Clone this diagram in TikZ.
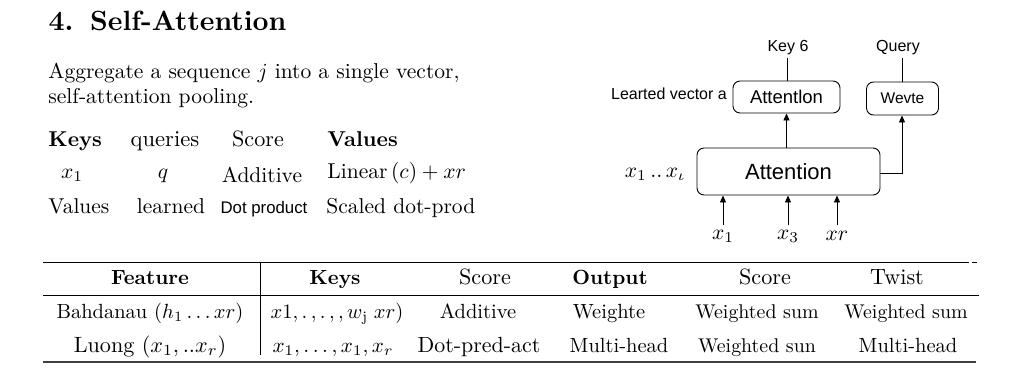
\documentclass[tikz,border=0pt]{standalone}
\usepackage{fontspec}
\newfontfamily\dsans{Liberation Sans}
\usetikzlibrary{arrows.meta}
\begin{document}
\begin{tikzpicture}[x=1pt,y=-1pt,
  serif/.style={inner sep=0pt,font=\fontsize{10}{12}\selectfont,scale=2.15},
  hdr/.style={serif,font=\fontsize{10}{12}\selectfont\bfseries},
  tser/.style={inner sep=0pt,anchor=base,font=\fontsize{10}{12}\selectfont,scale=2.05},
  thdr/.style={tser,font=\fontsize{10}{12}\selectfont\bfseries},
  lbl/.style={inner sep=0pt,font=\dsans\fontsize{16}{18}\selectfont},
  box/.style={draw,line width=0.9pt,rounded corners=7pt},
  conn/.style={line width=0.9pt},
  arr/.style={line width=0.9pt,-{Triangle[length=7pt,width=6pt]}},
  rule/.style={line width=0.9pt},
  thick rule/.style={line width=1.4pt,draw=black!75}]
\useasboundingbox (0,0) rectangle (1024,384);
% title and text
\node[anchor=base west,inner sep=0pt,font=\fontsize{10}{12}\selectfont\bfseries,scale=2.78] (title) at (48,30) {4.\hspace{0.6em}Self-Attention};
\node[serif,anchor=base west] (p1) at (48,78) {Aggregate a sequence $j$ into a single vector,};
\node[serif,anchor=base west] (p2) at (48,103) {self-attention pooling.};
% mini table
\node[hdr,anchor=base west] (k) at (48,146) {Keys};
\node[serif,anchor=base,scale=1.05] (q) at (165,146) {queries};
\node[serif,anchor=base,scale=1.03] (s) at (258,146) {Score};
\node[hdr,anchor=base west] (v) at (327,146) {Values};
\node[serif,anchor=base] (r1a) at (72,178) {$x_1$};
\node[serif,anchor=base] (r1b) at (163,178) {$q$};
\node[serif,anchor=base] (r1c) at (262,182) {Additive};
\node[serif,anchor=base west] (r1d) at (327,178) {Linear$\,(c) + xr$};
\node[serif,anchor=base west] (r2a) at (48,213) {Values};
\node[serif,anchor=base] (r2b) at (171,213) {learned};
\node[inner sep=0pt,anchor=base,font=\dsans\fontsize{16.8}{18}\selectfont] (r2c) at (264,213) {Dot product};
\node[serif,anchor=base west] (r2d) at (326,213) {Scaled dot-prod};
% diagram
\node[box,minimum width=107pt,minimum height=32pt,font=\dsans\fontsize{18.5}{20}\selectfont] (att2) at (786.5,97) {Attentlon};
\node[box,minimum width=72pt,minimum height=33pt,font=\dsans\fontsize{15.5}{17}\selectfont] (wev) at (902.5,98.5) {Wevte};
\node[box,minimum width=183pt,minimum height=47pt,font=\dsans\fontsize{22}{24}\selectfont] (att) at (788.5,171.5) {Attention};
\node[lbl] (key) at (788,48) {Key 6};
\node[lbl] (qry) at (898,48) {Query};
\node[lbl,anchor=east] (lv) at (727,94) {Learted vector a};
\node[serif,anchor=east] (xs) at (686,174) {$x_1\,..\,x_\iota$};
\node[serif] (i1) at (723,236) {$x_1$};
\node[serif] (i3) at (788,236) {$x_3$};
\node[serif] (ir) at (837,236) {$xr$};
\coordinate (k0) at (787,58);
\coordinate (q0) at (902,58);
\draw[conn] (k0) -- (att2.north -| k0);
\draw[conn] (q0) -- (wev.north -| q0);
\draw[arr] (att.north -| att2.south) -- (att2.south);
\draw[arr] (att.east |- 0,173) -| (wev.south -| q0);
\draw[arr] (723,225) -- (att.south -| i1.north);
\draw[arr] (788,225) -- (att.south -| i3.north);
\draw[arr] (837,225) -- (att.south -| ir.north);
% bottom table
\coordinate (tl) at (43,262);
\coordinate (tr) at (969,262);
\coordinate (dl) at (972,262);
\coordinate (dr) at (977,262);
\coordinate (ml) at (43,295);
\coordinate (mr) at (979,295);
\coordinate (bl) at (43,362);
\coordinate (br) at (976,362);
\coordinate (vt) at (260,262);
\coordinate (vb) at (260,355);
\draw[rule] (tl) -- (tr);
\draw[rule] (dl) -- (dr);
\draw[rule] (ml) -- (mr);
\draw[thick rule] (bl) -- (br);
\draw[rule] (vt) -- (vb);
\node[thdr] (h1) at (150,284) {Feature};
\node[thdr] (h2) at (335,284) {Keys};
\node[tser,scale=1.08] (h3) at (485,284) {Score};
\node[thdr] (h4) at (610,284) {Output};
\node[tser,scale=1.08] (h5) at (765,284) {Score};
\node[tser,scale=1.08] (h6) at (897,284) {Twist};
\node[tser] (a1) at (150,318) {Bahdanau $(h_1\ldots xr)$};
\node[tser] (a2) at (337,318) {$x1,.\,,.\,,,w_{\mathrm{j}}\;xr)$};
\node[tser] (a3) at (478,318) {Additive};
\node[tser] (a4) at (609,318) {Weighte};
\node[tser,scale=0.97] (a5) at (757,318) {Weighted sum};
\node[tser,scale=0.97] (a6) at (906,318) {Weighted sum};
\node[tser,scale=1.08] (b1) at (150,352) {Luong $(x_1,..x_r)$};
\node[tser,scale=1.03] (b2) at (333,352) {$x_1,\ldots,x_1,x_r$};
\node[tser,scale=1.07] (b3) at (479,352) {Dot-pred-act};
\node[tser] (b4) at (619,352) {Multi-head};
\node[tser,scale=0.97] (b5) at (757,352) {Weighted sun};
\node[tser] (b6) at (908,352) {Multi-head};
\end{tikzpicture}
\end{document}
